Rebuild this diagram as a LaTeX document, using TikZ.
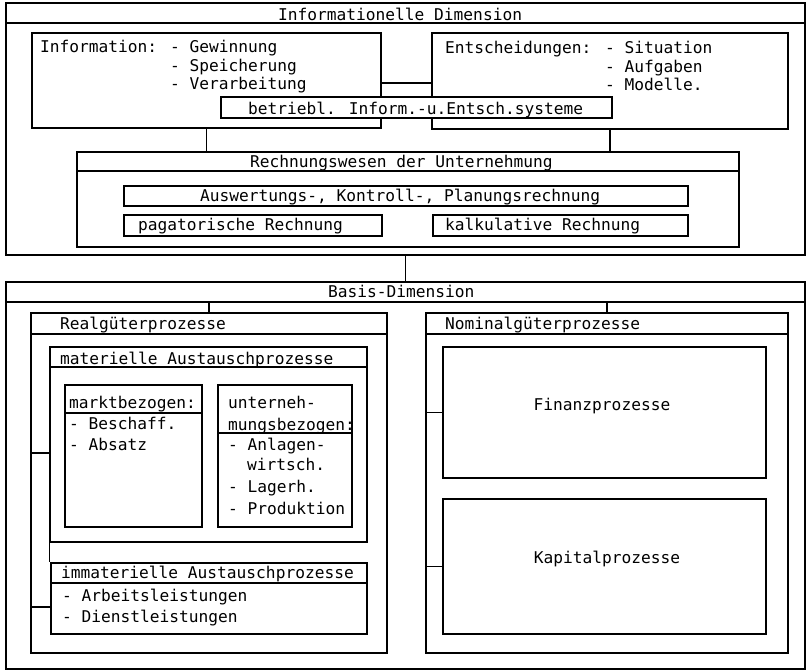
\documentclass[tikz,border=0pt]{standalone}
\usepackage{fontspec}
\newfontfamily\dm{DejaVu Sans Mono}
\begin{document}
\begin{tikzpicture}[x=1pt,y=-1pt,
  box/.style={draw, line width=1.5pt, inner sep=0pt, fill=white},
  txt/.style={font=\dm\fontsize{16.2}{18}\selectfont, inner sep=0pt, anchor=base west},
  ctxt/.style={font=\dm\fontsize{16.2}{18}\selectfont, inner sep=0pt, anchor=base},
  ln/.style={line width=1.5pt}]
\useasboundingbox (0,0) rectangle (807,671);
% boxes
\node[box, minimum width=799pt, minimum height=252pt] (top) at (405.5,129) {};
\node[box, minimum width=349pt, minimum height=95pt] (info) at (206.5,80.5) {};
\node[box, minimum width=356pt, minimum height=96pt] (ent) at (610,81) {};
\node[box, minimum width=391pt, minimum height=21pt] (betr) at (416.5,107.5) {};
\node[box, minimum width=662pt, minimum height=95pt] (rw) at (408,199.5) {};
\node[box, minimum width=564pt, minimum height=20pt] (ausw) at (406,196) {};
\node[box, minimum width=258pt, minimum height=21pt] (pag) at (253,225.5) {};
\node[box, minimum width=255pt, minimum height=21pt] (kalk) at (560.5,225.5) {};
\node[box, minimum width=799pt, minimum height=387pt] (basis) at (405.5,475.5) {};
\node[box, minimum width=356pt, minimum height=340pt] (real) at (209,483) {};
\node[box, minimum width=362pt, minimum height=340pt] (nom) at (607,483) {};
\node[box, minimum width=317pt, minimum height=195pt] (mat) at (208.5,444.5) {};
\node[box, minimum width=137pt, minimum height=142pt] (markt) at (133.5,456) {};
\node[box, minimum width=134pt, minimum height=142pt] (unt) at (285,456) {};
\node[box, minimum width=316pt, minimum height=71pt] (immat) at (209,598.5) {};
\node[box, minimum width=323pt, minimum height=131pt] (fin) at (604.5,412.5) {};
\node[box, minimum width=323pt, minimum height=135pt] (kap) at (604.5,566.5) {};
% header coordinates
\coordinate (hTop) at (0,23);
\coordinate (hRw) at (0,171);
\coordinate (hBasis) at (0,302);
\coordinate (hReal) at (0,334);
\coordinate (hMat) at (0,367);
\coordinate (hMarkt) at (0,413);
\coordinate (hUnt) at (0,433);
\coordinate (hImmat) at (0,583);
\coordinate (cIE) at (0,83);
\coordinate (cMat) at (0,453);
\coordinate (cImm) at (0,607);
% header lines
\draw[ln] (top.west |- hTop) -- (top.east |- hTop);
\draw[ln] (rw.west |- hRw) -- (rw.east |- hRw);
\draw[ln] (basis.west |- hBasis) -- (basis.east |- hBasis);
\draw[ln] (real.west |- hReal) -- (real.east |- hReal);
\draw[ln] (nom.west |- hReal) -- (nom.east |- hReal);
\draw[ln] (mat.west |- hMat) -- (mat.east |- hMat);
\draw[ln] (markt.west |- hMarkt) -- (markt.east |- hMarkt);
\draw[ln] (unt.west |- hUnt) -- (unt.east |- hUnt);
\draw[ln] (immat.west |- hImmat) -- (immat.east |- hImmat);
% connectors
\draw[ln] (info.east |- cIE) -- (ent.west |- cIE);
\draw[ln] (info.south) -- (info.south |- rw.north);
\draw[ln] (ent.south) -- (ent.south |- rw.north);
\draw[ln] (top.south) -- (basis.north);
\draw[ln] (real.north) -- (real.north |- hBasis);
\draw[ln] (nom.north) -- (nom.north |- hBasis);
\draw[ln] (real.west |- cMat) -- (mat.west |- cMat);
\draw[ln] (real.west |- cImm) -- (immat.west |- cImm);
\draw[ln] (mat.south west) -- (mat.south west |- immat.north);
\draw[ln] (nom.west |- fin.west) -- (fin.west);
\draw[ln] (nom.west |- kap.west) -- (kap.west);
% texts
\node[txt] (tTop) at (278,21) {Informationelle Dimension};
\node[txt] (tInfo) at (40,53) {Information:};
\node[txt] (tInfo1) at (170,53) {- Gewinnung};
\node[txt] (tInfo2) at (170,71.5) {- Speicherung};
\node[txt] (tInfo3) at (170,90) {- Verarbeitung};
\node[txt] (tEnt) at (445,54) {Entscheidungen:};
\node[txt] (tEnt1) at (605,54) {- Situation};
\node[txt] (tEnt2) at (605,72.5) {- Aufgaben};
\node[txt] (tEnt3) at (605,91) {- Modelle.};
\node[txt] (tBetr) at (248,115) {betriebl. Inform.-u.Entsch.systeme};
\node[txt] (tRw) at (250,168) {Rechnungswesen der Unternehmung};
\node[txt] (tAusw) at (200,202) {Auswertungs-, Kontroll-, Planungsrechnung};
\node[txt] (tPag) at (138,231) {pagatorische Rechnung};
\node[txt] (tKalk) at (445,231) {kalkulative Rechnung};
\node[txt] (tBasis) at (328,298) {Basis-Dimension};
\node[txt] (tReal) at (60,330) {Realgüterprozesse};
\node[txt] (tNom) at (445,330) {Nominalgüterprozesse};
\node[txt] (tMat) at (60,365) {materielle Austauschprozesse};
\node[txt] (tMarkt) at (69,409) {marktbezogen:};
\node[txt] (tMarkt1) at (69,430) {- Beschaff.};
\node[txt] (tMarkt2) at (69,450) {- Absatz};
\node[txt] (tUnt) at (228,409) {unterneh-};
\node[txt] (tUntb) at (228,431) {mungsbezogen:};
\node[txt] (tUnt1) at (228,450) {- Anlagen-};
\node[txt] (tUnt1b) at (247,470) {wirtsch.};
\node[txt] (tUnt2) at (228,493) {- Lagerh.};
\node[txt] (tUnt3) at (228,514) {- Produktion};
\node[txt] (tImmat) at (61,578) {immaterielle Austauschprozesse};
\node[txt] (tImmat1) at (62,601) {- Arbeitsleistungen};
\node[txt] (tImmat2) at (62,622) {- Dienstleistungen};
\node[ctxt] (tFin) at (602,411) {Finanzprozesse};
\node[ctxt] (tKap) at (607,563) {Kapitalprozesse};
\end{tikzpicture}
\end{document}
